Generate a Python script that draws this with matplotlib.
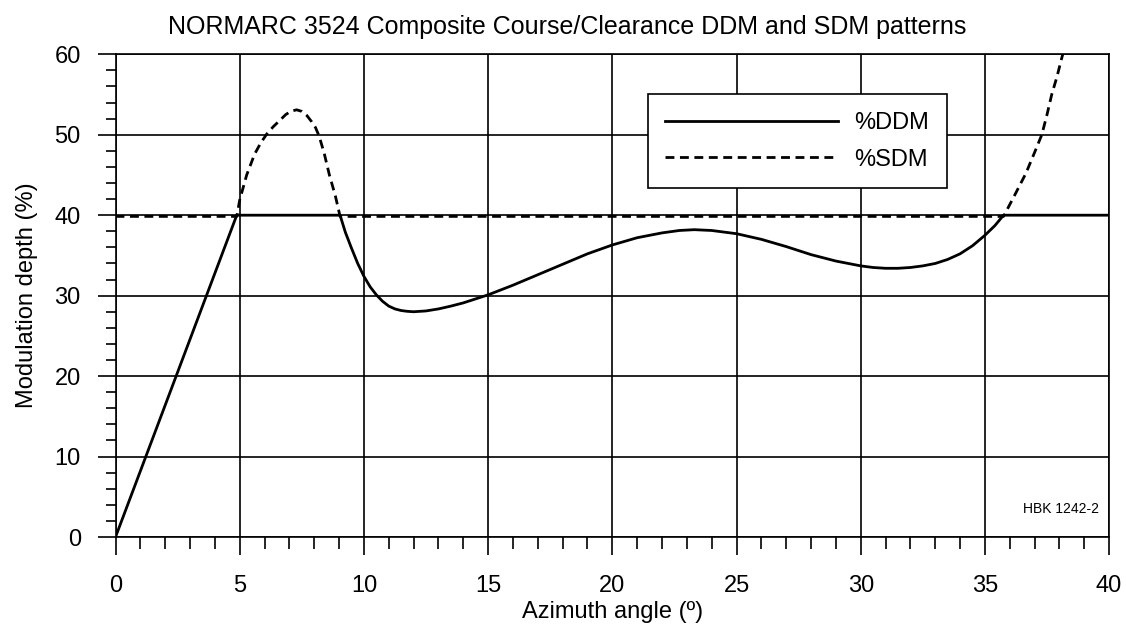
import matplotlib
matplotlib.use("Agg")
import matplotlib.pyplot as plt
from matplotlib.ticker import MultipleLocator

plt.rcParams['font.family'] = ['Liberation Sans', 'DejaVu Sans']

# DDM (solid) readings
ddm_x = [0, 4.88, 9.04, 9.25, 9.5, 9.75, 10.0, 10.25, 10.5, 10.75, 11.0, 11.25, 11.5, 11.75, 12.0,
         12.5, 13, 13.5, 14, 15, 16, 17, 18, 19, 20, 21, 22, 22.7, 23.3, 24, 25, 26, 27, 28, 29,
         30, 30.5, 31, 31.5, 32, 32.5, 33, 33.5, 34, 34.5, 35, 35.4, 35.75, 40]
ddm_y = [0, 40, 40, 37.9, 35.9, 34.0, 32.4, 31.1, 30.1, 29.3, 28.7, 28.35, 28.15, 28.05, 28.0,
         28.1, 28.35, 28.7, 29.1, 30.1, 31.3, 32.6, 33.9, 35.2, 36.3, 37.2, 37.8, 38.1, 38.2, 38.1, 37.7, 37.0, 36.1, 35.1, 34.3,
         33.7, 33.5, 33.4, 33.4, 33.5, 33.7, 34.0, 34.5, 35.2, 36.2, 37.5, 38.7, 40, 40]

# SDM (dashed) readings
sdm_x = [0, 4.88, 5.0, 5.28, 5.6, 5.85, 6.09, 6.35, 6.62, 6.85, 7.05, 7.29, 7.5, 7.7, 7.9, 8.05, 8.2,
         8.4, 8.61, 8.85, 9.04,
         35.75, 36.2, 36.65, 37.0, 37.29, 37.5, 37.69, 37.9, 38.09, 38.4]
sdm_y = [39.85, 39.85, 41.9, 45.0, 47.6, 49.0, 50.1, 51.0, 51.8, 52.5, 52.9, 53.1, 52.9, 52.4, 51.6, 50.9, 49.8,
         47.7, 45.0, 42.4, 39.85,
         39.85, 42.5, 45.2, 47.8, 50.0, 52.5, 55.0, 57.2, 59.5, 63.0]

title = "NORMARC 3524 Composite Course/Clearance DDM and SDM patterns"
xlabel = "Azimuth angle (º)"
ylabel = "Modulation depth (%)"
note = "HBK 1242-2"

fig = plt.figure(figsize=(11.26, 6.24), dpi=100)
ax = fig.add_axes([0.1026, 0.1394, 0.8824, 0.7736])

ax.plot(sdm_x, sdm_y, color='black', lw=2.0, linestyle=(0, (3.2, 2.0)), label='%SDM', zorder=3)
ax.plot(ddm_x, ddm_y, color='black', lw=2.0, label='%DDM', zorder=4)

ax.set_xlim(0, 40)
ax.set_ylim(0, 60)
ax.xaxis.set_major_locator(MultipleLocator(5))
ax.xaxis.set_minor_locator(MultipleLocator(1))
ax.yaxis.set_major_locator(MultipleLocator(10))
ax.yaxis.set_minor_locator(MultipleLocator(2))
ax.grid(True, which='major', color='black', lw=1.2, zorder=2)
ax.set_axisbelow(True)

ax.tick_params(axis='x', which='major', direction='out', length=13, width=1.2, pad=14, labelsize=17)
ax.tick_params(axis='x', which='minor', direction='out', length=8.6, width=1.2)
ax.tick_params(axis='y', which='major', direction='out', length=13, width=1.2, pad=12, labelsize=17)
ax.tick_params(axis='y', which='minor', direction='out', length=7, width=1.2)
for s in ax.spines.values():
    s.set_linewidth(1.2)
    s.set_color('black')

fig.text(0.504, 1 - 27 / 624, title, fontsize=18, ha='center', va='center')
ax.set_xlabel(xlabel, fontsize=17, labelpad=3)
ax.set_ylabel(ylabel, fontsize=17, labelpad=12)

ax.text(39.6, 3.5, note, fontsize=10, ha='right', va='center')

handles, labels = ax.get_legend_handles_labels()
leg = ax.legend(handles[::-1], labels[::-1], loc='upper left', bbox_to_anchor=(0.5357, 0.917),
                borderaxespad=0, fontsize=17, handlelength=7.3, handletextpad=0.7,
                labelspacing=0.62, borderpad=0.75, fancybox=False, framealpha=1,
                edgecolor='black')
leg.get_frame().set_linewidth(1.2)
leg.set_zorder(5)

fig.savefig('out.png', dpi=100)
